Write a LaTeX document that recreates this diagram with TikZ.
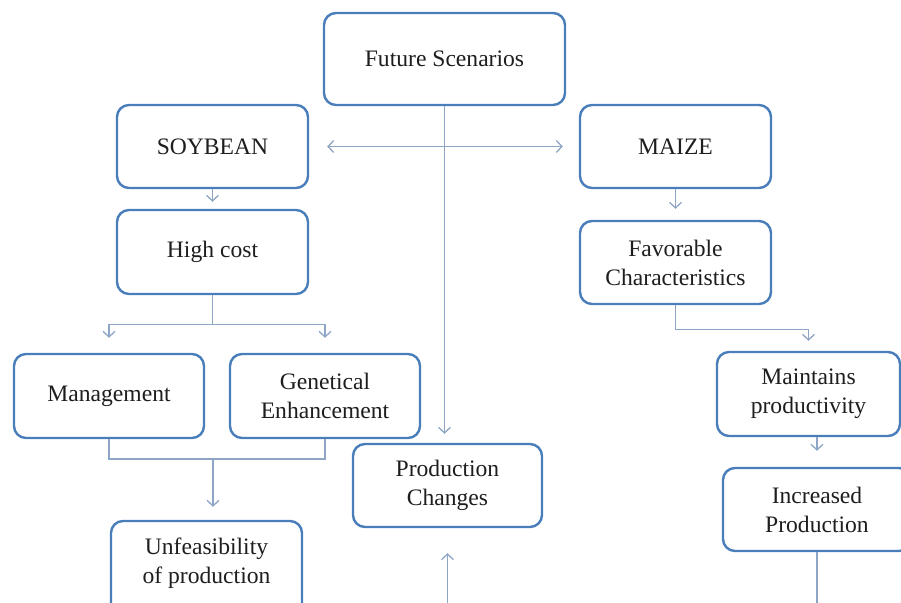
\documentclass[tikz,border=0pt]{standalone}
\usepackage{fontspec}
\setmainfont{Liberation Serif}
\usepackage{tikz}
\usetikzlibrary{arrows.meta}
\definecolor{boxblue}{HTML}{4A7EBB}
\definecolor{linkblue}{HTML}{8DA6C6}
\definecolor{textgray}{HTML}{1E1E1E}
\tikzset{
  block/.style={draw=boxblue, line width=1.2pt, rounded corners=6pt, fill=white,
    text=textgray, align=center, inner sep=0pt,
    font=\fontsize{11.8}{14.5}\selectfont},
  link/.style={draw=linkblue, line width=0.65pt,
    -{Straight Barb[length=2.8pt,width=6pt]}},
  plain/.style={draw=linkblue, line width=0.65pt}
}

\begin{document}
\begin{tikzpicture}[x=0.5pt,y=-0.5pt]
  \clip (0,0) rectangle (901,603);
  % boxes
  \node[block, minimum width=120.5pt, minimum height=46pt] (fut) at (444.5,59) {Future Scenarios};
  \node[block, minimum width=95.5pt, minimum height=41.5pt] (soy) at (212.5,146.5) {SOYBEAN};
  \node[block, minimum width=95.5pt, minimum height=41.5pt] (maize) at (675.5,146.5) {MAIZE};
  \node[block, minimum width=95.5pt, minimum height=42pt] (cost) at (212.5,252) {High cost};
  \node[block, minimum width=95.5pt, minimum height=41.5pt] (fav) at (675.5,262.5) {Favorable\\Characteristics};
  \node[block, minimum width=95pt, minimum height=42pt] (mgmt) at (109,396) {Management};
  \node[block, minimum width=95pt, minimum height=42pt] (gen) at (325,396) {Genetical\\Enhancement};
  \node[block, minimum width=95.5pt, minimum height=52pt, text depth=12.5pt] (unf) at (206.5,573) {Unfeasibility\\of production};
  \node[block, minimum width=94.5pt, minimum height=41.5pt] (prod) at (447.5,485.5) {Production\\Changes};
  \node[block, minimum width=91.5pt, minimum height=42pt] (maint) at (808.5,394) {Maintains\\productivity};
  \node[block, minimum width=94pt, minimum height=41.5pt] (inc) at (817,509.5) {Increased\\Production};
  \coordinate (join) at (213,459);

  % connectors
  \draw[link, {Straight Barb[length=2.8pt,width=6pt]}-{Straight Barb[length=2.8pt,width=6pt]},
    shorten <=9pt, shorten >=8pt] (soy) -- (maize);
  \draw[link, shorten >=4.5pt] (fut.south) -- (fut.south |- prod.north);
  \draw[link, shorten >=3.5pt] (soy) -- (cost);
  \draw[link, shorten >=5.5pt] (maize) -- (fav);
  \draw[link, shorten >=7.5pt] (cost.south) -- ++(0,29) -| (mgmt.north);
  \draw[link, shorten >=7.5pt] (cost.south) -- ++(0,29) -| (gen.north);
  \draw[plain] (mgmt.south) |- (join) -| (gen.south);
  \draw[link, shorten >=6.5pt] (join) -- (join |- unf.north);
  \draw[link, shorten >=5pt] (fav.south) -- ++(0,24) -| (maint.north);
  \draw[link, shorten >=8pt] (inc.north |- maint.south) -- (inc.north);
  \draw[link, shorten >=12.5pt] (inc.south) -- ++(0,80) -| (prod.south);
\end{tikzpicture}
\end{document}
